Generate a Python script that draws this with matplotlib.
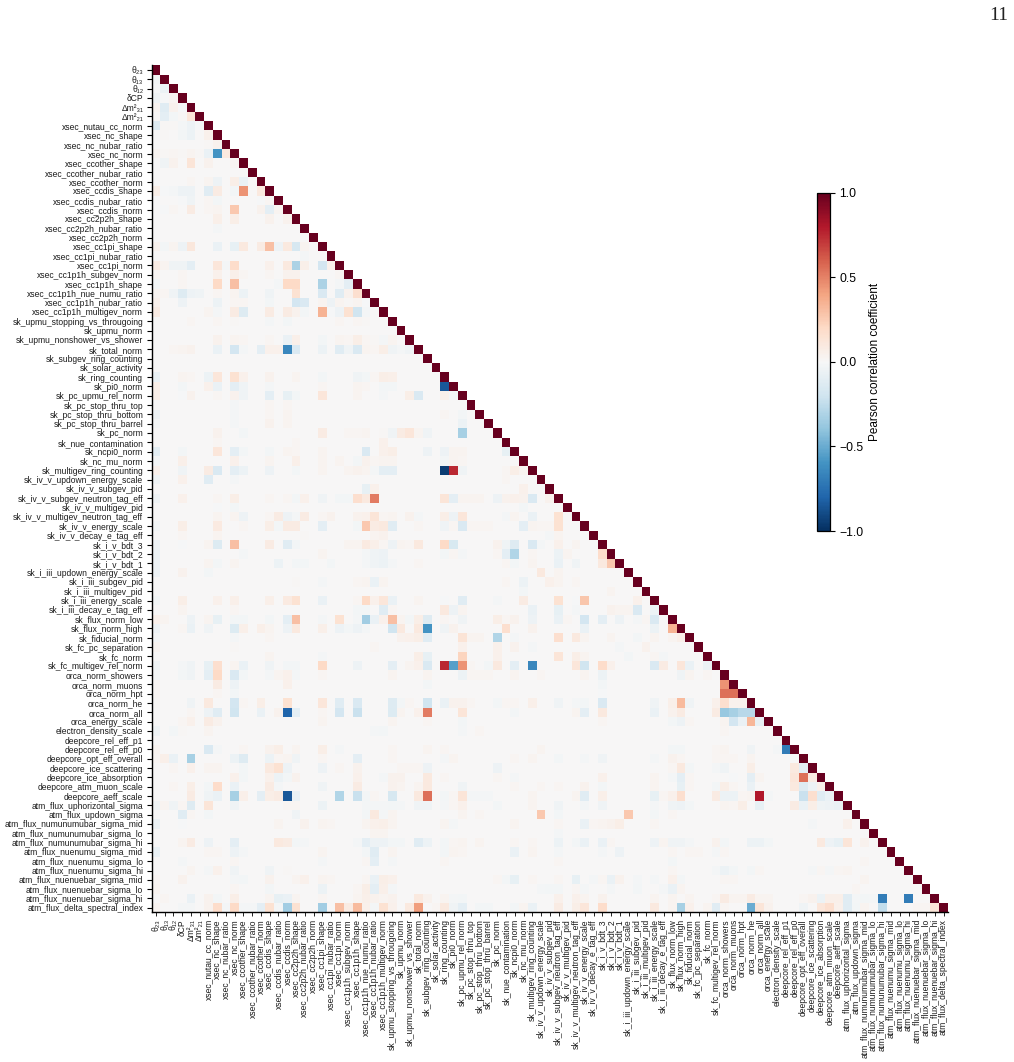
import numpy as np
import matplotlib
matplotlib.use("Agg")
import matplotlib.pyplot as plt

plt.rcParams["font.family"] = ["Liberation Sans", "DejaVu Sans"]

oscillation_params = ["θ₂₃", "θ₁₃", "θ₁₂", "δCP", "Δm²₃₁", "Δm²₂₁"]
xsec_params = [
    "xsec_nutau_cc_norm", "xsec_nc_shape", "xsec_nc_nubar_ratio", "xsec_nc_norm",
    "xsec_ccother_shape", "xsec_ccother_nubar_ratio", "xsec_ccother_norm",
    "xsec_ccdis_shape", "xsec_ccdis_nubar_ratio", "xsec_ccdis_norm",
    "xsec_cc2p2h_shape", "xsec_cc2p2h_nubar_ratio", "xsec_cc2p2h_norm",
    "xsec_cc1pi_shape", "xsec_cc1pi_nubar_ratio", "xsec_cc1pi_norm",
    "xsec_cc1p1h_subgev_norm", "xsec_cc1p1h_shape", "xsec_cc1p1h_nue_numu_ratio",
    "xsec_cc1p1h_nubar_ratio", "xsec_cc1p1h_multigev_norm",
]
sk_params = [
    "sk_upmu_stopping_vs_througoing", "sk_upmu_norm", "sk_upmu_nonshower_vs_shower",
    "sk_total_norm", "sk_subgev_ring_counting", "sk_solar_activity", "sk_ring_counting",
    "sk_pi0_norm", "sk_pc_upmu_rel_norm", "sk_pc_stop_thru_top", "sk_pc_stop_thru_bottom",
    "sk_pc_stop_thru_barrel", "sk_pc_norm", "sk_nue_contamination", "sk_ncpi0_norm",
    "sk_nc_mu_norm", "sk_multigev_ring_counting", "sk_iv_v_updown_energy_scale",
    "sk_iv_v_subgev_pid", "sk_iv_v_subgev_neutron_tag_eff", "sk_iv_v_multigev_pid",
    "sk_iv_v_multigev_neutron_tag_eff", "sk_iv_v_energy_scale", "sk_iv_v_decay_e_tag_eff",
    "sk_i_v_bdt_3", "sk_i_v_bdt_2", "sk_i_v_bdt_1", "sk_i_iii_updown_energy_scale",
    "sk_i_iii_subgev_pid", "sk_i_iii_multigev_pid", "sk_i_iii_energy_scale",
    "sk_i_iii_decay_e_tag_eff", "sk_flux_norm_low", "sk_flux_norm_high", "sk_fiducial_norm",
    "sk_fc_pc_separation", "sk_fc_norm", "sk_fc_multigev_rel_norm",
]
orca_params = [
    "orca_norm_showers", "orca_norm_muons", "orca_norm_hpt", "orca_norm_he",
    "orca_norm_all", "orca_energy_scale", "electron_density_scale",
]
deepcore_params = [
    "deepcore_rel_eff_p1", "deepcore_rel_eff_p0", "deepcore_opt_eff_overall",
    "deepcore_ice_scattering", "deepcore_ice_absorption", "deepcore_atm_muon_scale",
    "deepcore_aeff_scale",
]
atm_flux_params = [
    "atm_flux_uphorizontal_sigma", "atm_flux_updown_sigma", "atm_flux_numunumubar_sigma_mid",
    "atm_flux_numunumubar_sigma_lo", "atm_flux_numunumubar_sigma_hi", "atm_flux_nuenumu_sigma_mid",
    "atm_flux_nuenumu_sigma_lo", "atm_flux_nuenumu_sigma_hi", "atm_flux_nuenuebar_sigma_mid",
    "atm_flux_nuenuebar_sigma_lo", "atm_flux_nuenuebar_sigma_hi", "atm_flux_delta_spectral_index",
]
param_labels = oscillation_params + xsec_params + sk_params + orca_params + deepcore_params + atm_flux_params

# Off-diagonal Pearson coefficients, row index -> {column index: r}, grouped by the row's family
oscillation_corr = {
    1: {0: -.03},
    2: {0: -.01, 1: -.06},
    3: {0: -.04, 1: -.01, 2: .02},
    4: {0: .03, 1: -.12, 2: .04, 3: -.01},
    5: {0: .01, 1: -.1, 2: -.03, 3: .01, 4: .12},
}
xsec_corr = {
    6: {0: -.13, 1: .01, 2: .01, 3: -.02, 4: -.05, 5: -.01},
    7: {1: .01, 3: -.03, 4: -.06, 6: .05},
    8: {6: .01, 7: .04},
    9: {0: .03, 1: .01, 2: .02, 3: .01, 4: .03, 5: .01, 6: -.07, 7: -.6, 8: .1},
    10: {1: -.04, 2: .04, 4: .13, 6: .04, 9: .02},
    12: {4: .02, 6: .03, 7: -.05, 9: .07, 10: -.07},
    13: {0: .07, 1: -.01, 2: -.02, 3: -.05, 4: -.05, 6: -.12, 7: .08, 9: -.03, 10: .45, 12: .1},
    14: {3: -.01, 4: -.04, 6: .02, 7: -.03, 12: -.01, 13: .02},
    15: {1: -.01, 2: .02, 4: .08, 6: .02, 7: .03, 9: .27, 12: .04, 13: -.1, 14: .03},
    16: {7: .06, 9: .07, 13: .04, 15: .04},
    17: {7: -.02},
    19: {0: .04, 1: -.03, 2: .03, 3: -.05, 4: .11, 7: -.07, 9: -.08, 10: .1, 12: .08, 13: .3,
         14: -.05, 15: .1, 16: -.17, 17: .03},
    20: {17: -.02},
    21: {0: .08, 1: .03, 2: -.04, 3: -.04, 4: -.1, 7: .12, 8: -.02, 9: .18, 13: .05, 15: .1,
         16: -.32, 17: .06, 19: -.18, 20: .05},
    22: {0: .02, 3: .02, 7: .05, 9: .06, 10: .02, 13: .02, 15: .04, 16: .04, 21: .02},
    23: {0: -.03, 3: .02, 7: .2, 9: .3, 14: -.02, 15: .2, 16: .2, 19: -.32, 21: -.02, 22: -.1},
    24: {0: .03, 1: .02, 2: -.04, 3: -.13, 4: -.05, 5: -.04, 7: .02, 9: .03, 10: -.06, 13: -.04,
         16: .15, 19: -.15, 21: -.12, 22: .04, 23: .17},
    25: {0: .05, 3: -.05, 7: -.06, 9: .02, 10: .02, 13: -.03, 16: -.18, 17: -.15, 19: .03,
         20: -.05, 21: .03, 22: .01, 23: .03, 24: -.01},
    26: {0: .08, 6: .03, 7: -.02, 9: .08, 10: -.13, 13: .08, 15: .08, 16: .04, 17: -.03, 19: .35,
         20: -.01, 21: -.05, 22: .15, 23: -.2, 24: -.02},
}
sk_corr = {
    27: {4: .02, 7: .02, 9: .01, 13: -.02, 15: -.03, 21: .02, 23: .02, 24: .01},
    29: {7: .04, 9: .03, 10: .02, 13: .02, 15: -.07, 16: .06, 19: -.03, 21: .03, 22: .02, 23: .07,
         24: .02, 25: .01, 26: -.02, 27: .03},
    30: {2: .02, 3: .03, 4: .04, 7: -.07, 9: -.18, 10: -.02, 12: -.1, 13: .05, 14: .05, 15: -.65,
         16: -.15, 19: -.06, 21: -.12, 22: -.04, 23: -.15, 24: .03, 25: .02, 26: .07, 27: -.04,
         28: -.02, 29: -.04},
    33: {0: -.07, 3: .03, 4: .02, 6: -.06, 7: .12, 9: .15, 10: .05, 13: .04, 16: .03, 19: -.03,
         23: -.04, 24: -.03, 25: .02, 26: .07, 27: .06},
    34: {0: .07, 3: -.03, 6: .05, 7: -.07, 9: -.1, 10: -.04, 13: -.02, 19: .02, 23: .03, 24: .02,
         26: -.03, 27: -.03, 33: -.85},
    35: {0: .07, 3: -.01, 4: .04, 7: .02, 9: .04, 10: -.04, 13: -.1, 15: -.08, 16: -.03, 19: .12,
         23: .03, 26: -.02, 29: .07, 30: -.15, 33: .05, 34: -.02},
    36: {9: -.02, 13: .02, 15: .02},
    37: {0: -.05, 9: -.02, 13: .02, 15: .03, 33: .02, 35: -.03},
    38: {0: -.02, 9: -.02, 13: .04, 15: .03, 35: -.06},
    39: {7: .04, 10: -.03, 19: .08, 22: .02, 23: .02, 24: .03, 26: .01, 27: -.04, 28: .08, 29: .12,
         30: .03, 31: -.04, 35: -.33},
    40: {7: .02, 16: .02, 26: .05},
    41: {0: -.1, 3: -.03, 7: .12, 9: -.1, 10: -.03, 13: -.03, 15: .03, 16: .02, 19: .03, 24: -.15,
         26: .05, 27: .07, 31: -.05, 33: -.05, 34: .03, 35: .03, 40: -.08},
    42: {0: -.02, 3: .06, 9: .05, 13: .03, 16: .06, 19: .03, 21: .03, 23: -.03, 24: .04, 25: .02,
         26: .03, 27: .03, 33: -.03, 34: .03, 35: .02},
    43: {0: .05, 3: -.04, 6: .08, 7: -.15, 9: -.1, 10: -.06, 13: -.05, 16: -.03, 19: .03, 22: .03,
         23: .04, 24: .03, 25: -.02, 26: -.1, 27: -.1, 33: -.95, 34: .75, 35: -.04, 40: .02, 41: .07,
         42: .03},
    44: {0: -.04, 3: .05, 6: -.12, 9: -.02, 40: .02},
    45: {24: -.08, 25: .05, 42: .05},
    46: {0: -.04, 3: .05, 7: .02, 9: .07, 13: .02, 15: .02, 16: -.03, 17: .05, 19: -.04, 21: -.03,
         22: -.03, 23: .17, 24: .1, 25: .52, 33: .13, 34: -.1, 35: .03, 36: .03, 37: .03, 39: -.05,
         40: .04, 41: .05, 42: .04, 43: -.15, 45: .04},
    47: {7: -.01, 9: -.03, 42: -.03},
    48: {7: .03, 9: .03, 10: -.05, 13: .02, 14: .08, 15: -.05, 16: -.02, 17: .08, 19: .02, 20: .04,
         23: .04, 24: .05, 25: .13, 26: .02, 27: .03, 29: .04, 30: -.02, 33: .07, 34: -.05, 35: .12,
         40: -.02, 41: .03, 43: -.07, 46: .15},
    49: {0: -.03, 3: .07, 7: .09, 10: .02, 13: .07, 14: -.03, 15: .08, 16: .08, 19: -.1, 23: -.03,
         24: .27, 25: .08, 26: .1, 27: -.12, 30: .02, 33: -.04, 34: .02, 35: -.15, 36: .02, 37: .02,
         38: .02, 42: -.1, 43: .03, 44: .02, 45: .02, 46: .15},
    50: {3: .02, 7: .03, 17: .01, 25: .03, 26: .04, 45: -.02, 46: .03},
    51: {0: -.05, 3: -.01, 6: .03, 7: -.14, 9: .3, 13: .08, 15: -.12, 16: -.03, 22: .03, 23: .03,
         24: .09, 25: .06, 26: .02, 27: -.05, 28: .03, 29: .02, 30: .1, 33: .2, 34: -.16, 39: .04,
         40: -.04, 41: -.13, 43: -.15, 44: -.02, 46: .05, 48: .03},
    52: {0: -.06, 10: -.02, 19: .03, 24: -.02, 25: -.04, 26: -.05, 33: -.03, 34: .02, 35: -.02,
         39: .02, 40: -.1, 41: -.3, 43: .02, 46: -.06, 47: .03, 51: .18},
    53: {0: -.05, 6: .03, 7: -.03, 9: .03, 14: -.06, 16: -.03, 17: -.03, 20: -.03, 24: -.02,
         25: -.04, 26: -.06, 27: -.02, 30: .02, 40: .02, 41: -.03, 43: .03, 46: -.07, 48: -.04,
         51: .1, 52: .27},
    54: {0: -.05, 3: .04, 6: -.03, 44: .1, 46: .03},
    55: {16: .01, 19: -.02, 23: .02, 24: .03, 25: -.07, 26: .03, 40: .02, 42: -.06, 45: .05, 46: .03,
         48: .02},
    56: {42: -.03, 52: .03},
    57: {0: -.03, 3: .07, 7: .05, 9: .06, 13: .06, 15: .09, 16: .15, 19: -.07, 23: .02, 24: .2,
         25: .05, 26: .12, 27: -.07, 30: .03, 33: -.01, 35: -.12, 39: -.02, 42: .08, 46: .15, 48: -.01,
         49: .28, 55: .05},
    58: {3: .03, 9: .02, 23: -.03, 24: -.03, 26: -.12, 27: .02, 33: .1, 34: -.05, 35: .03, 43: -.07,
         46: -.08, 48: -.02, 52: .04, 53: .03, 54: .03, 55: -.15, 57: -.06},
    59: {0: .05, 1: .03, 4: -.05, 6: .03, 7: -.08, 9: -.03, 10: -.03, 13: -.03, 15: -.1, 16: .3,
         19: -.02, 21: .15, 23: -.02, 24: -.35, 25: -.07, 26: .05, 27: .3, 28: .03, 29: -.03, 30: .07,
         31: -.13, 33: .02, 35: -.04, 39: .07, 40: .02, 41: .04, 43: -.05, 46: -.07, 47: .02, 49: -.18,
         51: -.1, 53: -.05, 55: -.02, 56: .02, 57: -.15},
    60: {0: -.05, 3: .02, 4: -.07, 6: -.04, 9: -.14, 10: .06, 12: .06, 13: .03, 15: -.05, 16: .1,
         19: .06, 21: -.05, 22: -.03, 23: -.05, 24: -.02, 27: -.2, 28: .1, 30: .1, 31: -.6, 33: -.04,
         34: .04, 40: .17, 43: .04, 49: -.07, 57: -.06, 59: .35},
    61: {0: -.02, 9: -.02, 13: .02, 28: .04, 29: .05, 30: .07, 31: -.12, 35: .14, 36: .03, 37: .03,
         39: -.3, 41: -.02, 46: .17, 48: .1, 49: .03, 52: .03, 55: -.03, 57: .03, 59: .03, 60: .06},
    62: {0: .03, 9: .01, 25: .02, 35: .05, 39: .05, 41: .04, 43: -.02, 53: -.02, 56: .04},
    63: {13: .03, 19: -.02, 30: .07, 31: -.08, 35: .22, 39: .05, 46: .13, 48: .07, 49: .03, 54: -.03,
         57: .02, 58: -.02},
    64: {0: -.04, 3: -.02, 4: -.04, 6: -.08, 7: .17, 9: .03, 10: -.07, 13: -.04, 15: -.03, 16: -.03,
         19: .2, 23: -.05, 27: -.1, 29: .03, 30: .05, 31: -.15, 33: .75, 34: -.55, 35: .45, 36: .02,
         38: -.03, 39: .1, 41: -.1, 43: -.65, 48: .12, 49: -.2, 51: .18, 52: .05, 57: -.15, 58: .08,
         60: .12, 61: -.07, 63: -.06},
}
orca_corr = {
    65: {0: -.02, 3: -.03, 4: -.04, 6: -.1, 7: .2, 9: -.15, 10: -.03, 13: -.02, 14: .03, 15: .05,
         16: -.02, 19: .02, 27: .03, 31: .03, 35: -.06, 36: .02, 37: .02, 38: .02, 41: .03, 44: .02,
         49: .03, 51: -.06, 60: -.04, 61: .03, 63: .02},
    66: {0: .02, 7: .08, 9: -.05, 15: .05, 31: -.03, 51: -.03, 65: .45},
    67: {0: .02, 7: .02, 9: -.03, 51: -.01, 65: .55, 66: .55},
    68: {0: .01, 4: -.04, 6: .1, 9: -.18, 10: .02, 12: .07, 15: .15, 19: .12, 21: -.12,
         23: -.15, 27: -.13, 28: -.03, 29: .02, 31: -.2, 33: -.07, 34: .04, 35: .04, 36: .02, 39: -.03,
         40: .02, 41: .02, 43: .06, 46: -.04, 48: -.02, 49: -.03, 51: -.15, 57: -.04, 59: .06, 60: .32,
         61: -.04, 64: .05, 65: .17, 66: .04, 67: .04},
    69: {4: .02, 6: -.05, 7: -.12, 9: -.2, 12: -.07, 14: .04, 15: -.8, 16: -.1, 19: .02, 21: -.18,
         23: -.22, 27: -.14, 28: .03, 30: .05, 31: .52, 35: .13, 41: -.03, 48: .03, 49: -.1,
         51: .1, 57: -.07, 59: .04, 60: .08, 64: .08, 65: -.38, 66: -.33, 67: -.28, 68: -.28},
    70: {3: .02, 4: .05, 6: .08, 7: .04, 19: .03, 27: .03, 31: .02, 35: -.03, 51: .02, 59: -.03,
         60: -.05, 61: .02, 65: .03, 66: -.18, 67: -.07, 68: .33, 69: -.08},
    71: {0: -.04, 2: -.03, 3: .01, 6: .03, 25: -.02, 26: -.03, 35: -.02, 37: .02, 65: .02},
}
deepcore_corr = {
    73: {0: .03, 6: -.15, 7: -.02, 10: .02, 13: .04, 14: .07, 16: .03, 19: .07, 21: -.02, 27: .02,
         31: .03, 33: .02, 44: .03, 59: -.03, 60: -.03, 64: .02, 65: .03, 68: -.04, 71: -.02, 72: -.7},
    74: {0: .02, 1: .06, 2: -.07, 4: -.33, 9: -.06, 10: -.13, 13: -.06, 14: .02, 15: .03, 16: -.04,
         19: .02, 23: -.1, 27: .02, 33: -.02, 34: .03, 41: .02, 43: .03, 46: -.03, 49: -.02,
         51: -.04, 57: -.02, 59: .04, 60: .02, 64: .02, 65: .02, 66: .02, 68: .03},
    75: {2: .02, 4: .05, 6: .03, 7: .03, 10: -.03, 13: .1, 14: .15, 15: -.05, 19: -.05, 21: .02,
         23: .04, 28: .02, 29: .02, 30: .02, 31: -.05, 39: -.05, 59: .02, 60: .1, 61: -.03, 64: -.02,
         65: -.04, 68: .07, 73: .1, 74: -.1},
    76: {9: .05, 10: -.03, 13: .05, 14: -.06, 15: -.03, 16: .04, 23: .05, 26: -.02, 27: .04, 28: .04,
         31: .1, 33: .02, 39: .02, 41: -.02, 51: .05, 57: .03, 59: -.02, 60: -.1, 61: .02, 66: -.01,
         68: -.1, 69: .03, 73: .12, 74: .55, 75: .08},
    77: {2: .02, 4: .07, 6: -.03, 7: .18, 9: -.07, 13: .08, 14: -.02, 19: -.04, 23: .08, 27: .04,
         28: .03, 30: .03, 31: .1, 35: -.04, 41: .02, 44: .02, 46: .02, 49: .04, 51: -.03, 57: .03,
         60: -.08, 61: .02, 64: -.03, 65: .07, 66: .02, 68: -.07, 73: .1, 74: -.13, 75: -.05, 76: .05},
    78: {4: .08, 6: -.04, 7: -.07, 9: -.33, 10: .06, 12: -.1, 13: .07, 14: .08, 15: -.85, 16: -.07,
         21: -.3, 23: -.22, 24: -.03, 25: .02, 27: -.17, 30: .1, 31: .55, 33: -.03, 34: .02,
         35: .13, 36: -.02, 37: -.02, 38: -.02, 43: .03, 48: .03, 49: -.12, 51: .06, 57: -.08, 58: .02,
         59: .05, 60: .17, 64: .08, 65: -.06, 66: -.06, 67: .02, 68: .03, 69: .8, 70: -.02, 74: -.22,
         75: .17, 76: -.12, 77: -.07},
}
atm_flux_corr = {
    79: {0: -.04, 1: .03, 2: -.04, 3: .02, 4: -.13, 6: .13, 9: -.04, 15: .02, 16: .02, 19: -.06,
         24: -.02, 25: -.02, 26: -.02, 27: -.03, 28: -.02, 30: -.04, 31: -.04, 33: -.02, 34: .02,
         35: .05, 39: -.03, 43: .03, 46: -.04, 49: -.03, 51: -.04, 57: -.02, 59: -.04, 60: -.05, 61: -.03,
         65: .03, 66: .02, 67: .07, 69: -.08, 73: .08, 74: -.07, 75: .07, 76: -.04, 77: -.05, 78: -.07},
    80: {3: -.12, 4: .02, 6: -.03, 16: -.04, 24: -.03, 25: .1, 26: -.02, 27: .03, 35: .03, 37: .02,
         44: .27, 46: -.03, 54: .27, 57: -.03, 59: .02},
    81: {0: -.06, 3: -.01, 14: .03, 17: .04, 19: .03, 20: .02, 24: .03, 25: .05, 26: .06, 27: .03,
         33: .03, 34: -.02, 41: .03, 46: .02, 49: -.07, 50: .02, 51: .03, 52: .04, 53: .07, 57: .02,
         75: -.02, 79: .05},
    82: {25: .03, 26: .03, 46: -.02},
    83: {3: .03, 4: .08, 6: -.05, 9: -.1, 14: .1, 15: .08, 16: -.03, 17: -.02, 23: -.02, 24: -.1,
         25: -.05, 26: -.05, 27: -.03, 28: -.03, 30: -.12, 31: -.06, 33: -.03, 34: .02, 35: .03, 37: .03,
         41: .02, 43: .02, 46: -.06, 48: -.03, 49: -.07, 51: -.07, 52: .02, 57: -.05, 58: .03, 59: -.04,
         60: -.04, 61: -.02, 64: .04, 65: -.03, 68: -.06, 69: -.06, 70: -.03, 76: .1, 77: -.05, 78: -.08,
         79: .13, 81: .04},
    84: {0: -.07, 6: .02, 7: .02, 9: -.05, 10: -.02, 19: .03, 24: -.03, 25: -.12, 27: .03, 33: -.03,
         34: .03, 35: .02, 41: -.07, 43: .03, 46: -.02, 51: -.02, 53: -.05, 59: .02, 61: .02, 62: .02,
         64: -.02, 65: .02},
    85: {3: -.02, 9: .02, 19: -.02, 24: .02, 25: -.1, 27: -.02, 33: .02, 46: .02, 59: -.03, 81: .02},
    86: {4: .03, 6: -.02, 7: .05, 9: -.04, 13: -.04, 15: .01, 59: .02, 64: -.02, 65: -.06, 66: -.03,
         68: -.03, 69: .02, 75: -.02, 76: .02, 77: -.02, 78: .02, 79: .03},
    87: {0: .02, 3: .04, 9: -.02, 10: -.03, 13: .04, 16: .03, 17: .05, 19: .03, 20: .02, 24: .02,
         25: -.07, 26: .07, 27: .05, 39: .02, 40: -.03, 41: -.08, 43: .02, 46: .02, 48: -.08, 50: -.02,
         51: .02, 52: -.07, 53: .04, 55: -.02, 57: -.02, 59: .05, 60: -.03, 65: .02, 66: .02, 81: .03},
    88: {0: .03, 9: .02, 13: -.03, 19: -.06, 23: .02, 24: .07, 25: -.1, 26: .06, 27: -.02, 44: -.02,
         45: -.03, 46: -.03, 48: .02, 49: -.02, 52: -.02, 55: -.03, 58: -.02, 59: -.07, 60: .03, 80: .02},
    89: {1: .02, 4: -.07, 6: .04, 7: -.03, 9: .07, 13: .03, 14: -.08, 15: -.07, 16: .03, 19: .02,
         23: .03, 24: .06, 25: .04, 26: .03, 27: .04, 30: .1, 31: .04, 33: .03, 34: -.02, 35: -.03,
         46: .05, 48: .05, 49: .03, 51: .04, 57: .03, 59: .03, 61: .03, 64: .02, 65: .08, 66: .03, 67: .03,
         68: .08, 69: .03, 70: .03, 74: .02, 75: .04, 76: -.06, 77: .06, 78: .06, 79: -.12, 80: -.02,
         81: -.03, 82: -.02, 83: -.7, 86: -.7},
    90: {0: .03, 3: -.02, 4: -.02, 6: .04, 7: .18, 8: -.02, 9: .2, 10: -.02, 11: -.02, 12: -.1,
         13: .15, 14: -.02, 15: -.35, 16: .15, 19: -.35, 21: .3, 22: .08, 23: .32, 24: .05, 25: -.02,
         26: .15, 27: .05, 29: .1, 30: .42, 32: .02, 33: .1, 34: -.04, 35: -.1, 37: -.03, 38: -.03, 41: -.03,
         42: .03, 43: -.07, 46: .08, 48: .07, 49: .12, 51: .18, 57: .1, 59: .03, 60: -.33, 61: .05, 63: .03,
         64: -.12, 65: .02, 68: -.5, 69: .13, 70: .04, 74: -.04, 76: .12, 77: .17, 78: .05, 79: -.12,
         80: -.03, 81: .03, 83: -.25, 87: .02, 88: .02, 89: .13},
}
colorbar_ticks = [-1.0, -0.5, 0.0, 0.5, 1.0]
page_number = "11"

n_params = len(param_labels)
corr = np.eye(n_params)
for family in (oscillation_corr, xsec_corr, sk_corr, orca_corr, deepcore_corr, atm_flux_corr):
    for row, entries in family.items():
        for col, r in entries.items():
            corr[row, col] = r

# Only the lower triangle and the diagonal are shown
shown = np.ma.masked_where(np.triu(np.ones_like(corr, dtype=bool), k=1), corr)

W, H = 1014, 1062
fig = plt.figure(figsize=(W / 100, H / 100), dpi=100)


def px_axes(x0, y0, x1, y1):
    return fig.add_axes([x0 / W, 1 - y1 / H, (x1 - x0) / W, (y1 - y0) / H])


ax = px_axes(151.6, 65.3, 948.0, 912.4)
mesh = ax.pcolormesh(np.arange(n_params + 1), np.arange(n_params + 1), shown,
                     cmap="RdBu_r", vmin=-1, vmax=1, antialiased=False)
ax.set_xlim(0, n_params)
ax.set_ylim(n_params, 0)
ticks = np.arange(n_params) + 0.5
ax.set_xticks(ticks)
ax.set_xticklabels(param_labels, rotation=90, fontsize=6.15, color="#1a1a1a")
ax.set_yticks(ticks)
ax.set_yticklabels(param_labels, fontsize=6.15, color="#1a1a1a")
ax.tick_params(axis="y", length=3.5, width=0.8, pad=2.6)
ax.tick_params(axis="x", length=3.0, width=0.6, pad=1.8)
for side in ("top", "right"):
    ax.spines[side].set_visible(False)
for side in ("left", "bottom"):
    ax.spines[side].set_linewidth(1.0)

cax = px_axes(817.3, 192.7, 830.3, 531.0)
cbar = fig.colorbar(mesh, cax=cax, ticks=colorbar_ticks)
cbar.ax.tick_params(labelsize=8.8, length=3.5, width=0.8, pad=2.8)
cbar.outline.set_linewidth(0.9)
cbar.set_label("Pearson correlation coefficient", fontsize=8.5, labelpad=4)

fig.text(1008 / W, 1 - 20.5 / H, page_number, family="Liberation Serif", fontsize=14,
         ha="right", va="baseline", color="#222222")

fig.savefig("out.png", dpi=100)
